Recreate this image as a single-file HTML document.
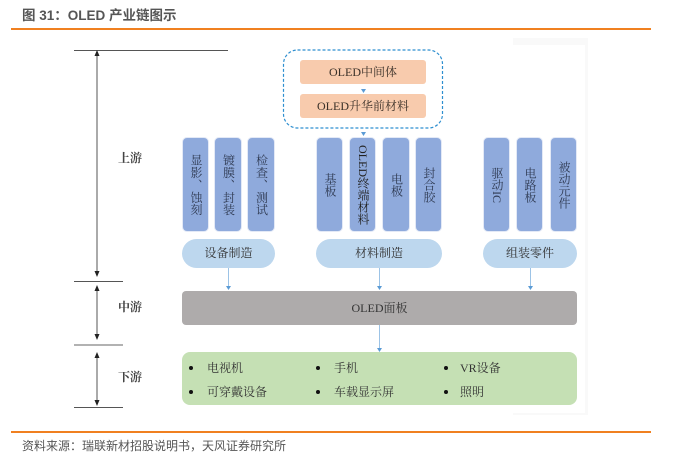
<!DOCTYPE html>
<html><head><meta charset="utf-8">
<style>
html,body{margin:0;padding:0;background:#fff}
#p{position:relative;width:673px;height:466px;overflow:hidden;background:#fff;font-family:"Liberation Serif","Noto Serif CJK SC",serif;color:#333;filter:blur(.3px)}
#p div{position:absolute;box-sizing:border-box}
.sans{font-family:"Liberation Sans","Noto Sans CJK SC",sans-serif}
.b{background:#8faadc;border-radius:5px;top:137px;height:95px;width:27px;border:1px solid #e3e9f6}
.v{writing-mode:vertical-rl;top:137px;height:95px;width:27px;display:flex;align-items:center;justify-content:center;font-size:12px;line-height:27px;color:#2f3a52;white-space:nowrap}
.pill{background:#bdd7ee;border-radius:15px;top:239px;height:29px;text-align:center;line-height:29px;font-size:12px}
.o{background:#f8cbad;border-radius:3px;left:300px;width:126px;text-align:center;font-size:12px;color:#3a3028}
.t{font-size:12px;white-space:nowrap;line-height:14px;color:#333}
.l{font-size:12px;font-weight:bold;white-space:nowrap;line-height:14px;color:#444}
.d{width:4px;height:4px;border-radius:50%;background:#111}
</style></head><body>
<div id="p">
<div style="left:513px;top:38px;width:75px;height:7px;background:#f9f9f9"></div>
<div style="left:585px;top:38px;width:3px;height:377px;background:#f9f9f9"></div>
<div style="left:513px;top:413px;width:75px;height:2px;background:#f9f9f9"></div>
<div class="sans" style="left:22px;top:7px;font-size:13.500px;font-weight:bold;color:#555;line-height:17px;white-space:nowrap">图 31：OLED 产业链图示</div>
<div style="left:11px;top:28px;width:640px;height:2px;background:#f08020"></div>
<div style="left:11px;top:431px;width:640px;height:2px;background:#f08020"></div>
<div class="sans" style="left:22px;top:438px;font-size:12px;color:#555;line-height:16px;white-space:nowrap">资料来源：瑞联新材招股说明书，天风证券研究所</div>

<svg width="673" height="466" style="position:absolute;left:0;top:0">
<g stroke="#555" stroke-width="1" fill="none">
<path d="M74 50.500H228M74 281.500H123M74 407.500H123"/>
<path d="M74 345H123" stroke="#999" stroke-width="1.600"/>
<path d="M97 54V275M97 288V335M97 355V403"/>
</g>
<g fill="#222">
<path d="M97 50l2.500 6h-5z"/>
<path d="M97 277l2.500-6h-5zM97 285l2.500 6h-5zM97 340l2.500-6h-5zM97 352l2.500 6h-5zM97 406l2.500-6h-5z"/>
</g>
<g stroke="#9cc3e6" stroke-width="1" fill="none">
<path d="M228.500 268V286M379.500 268V286M530.500 268V286M379.500 325V348"/>
</g>
<g fill="#5b9bd5">
<path d="M226 286h5l-2.500 4zM377 286h5l-2.500 4zM528 286h5l-2.500 4zM377 348h5l-2.500 4zM361 89h5l-2.500 4zM361 132h5l-2.500 4z"/>
</g>
<rect x="283.500" y="50" width="159" height="78" rx="14" fill="none" stroke="#2e8fd0" stroke-width="1.200" stroke-dasharray="3 2"/>
</svg>

<div class="o" style="top:60px;height:24px;line-height:24px">OLED中间体</div>
<div class="o" style="top:94px;height:24px;line-height:24px">OLED升华前材料</div>

<div class="b" style="left:182px"></div><div class="b" style="left:214px;width:28px"></div><div class="b" style="left:247px;width:28px"></div>
<div class="b" style="left:316px"></div><div class="b" style="left:349px"></div><div class="b" style="left:382px;width:28px"></div><div class="b" style="left:415px"></div>
<div class="b" style="left:483px"></div><div class="b" style="left:516px"></div><div class="b" style="left:550px"></div>

<div class="v" style="left:182px;letter-spacing:.4px">显影、蚀刻</div>
<div class="v" style="left:214px;width:28px;letter-spacing:.4px">镀膜、封装</div>
<div class="v" style="left:247px;width:28px;letter-spacing:.4px">检查、测试</div>
<div class="v" style="left:316px">基板</div>
<div class="v" style="left:349px;color:#222">OLED终端材料</div>
<div class="v" style="left:382px;width:28px">电极</div>
<div class="v" style="left:415px">封合胶</div>
<div class="v" style="left:483px">驱动IC</div>
<div class="v" style="left:516px">电路板</div>
<div class="v" style="left:550px">被动元件</div>

<div class="pill" style="left:182px;width:93px">设备制造</div>
<div class="pill" style="left:316px;width:126px">材料制造</div>
<div class="pill" style="left:483px;width:94px">组装零件</div>

<div style="left:182px;top:291px;width:395px;height:34px;background:#aeabab;border-radius:4px;text-align:center;line-height:34px;font-size:12px;color:#333">OLED面板</div>
<div style="left:182px;top:352px;width:395px;height:53px;background:#c5e0b4;border-radius:8px"></div>

<div class="l" style="left:118px;top:151px">上游</div>
<div class="l" style="left:118px;top:300px">中游</div>
<div class="l" style="left:118px;top:370px">下游</div>

<div class="d" style="left:189px;top:366px"></div><div class="d" style="left:189px;top:390px"></div>
<div class="d" style="left:316px;top:366px"></div><div class="d" style="left:316px;top:390px"></div>
<div class="d" style="left:444px;top:366px"></div><div class="d" style="left:444px;top:390px"></div>
<div class="t" style="left:207px;top:361px">电视机</div>
<div class="t" style="left:207px;top:385px">可穿戴设备</div>
<div class="t" style="left:334px;top:361px">手机</div>
<div class="t" style="left:334px;top:385px">车载显示屏</div>
<div class="t" style="left:460px;top:361px">VR设备</div>
<div class="t" style="left:460px;top:385px">照明</div>
</div>
</body></html>
